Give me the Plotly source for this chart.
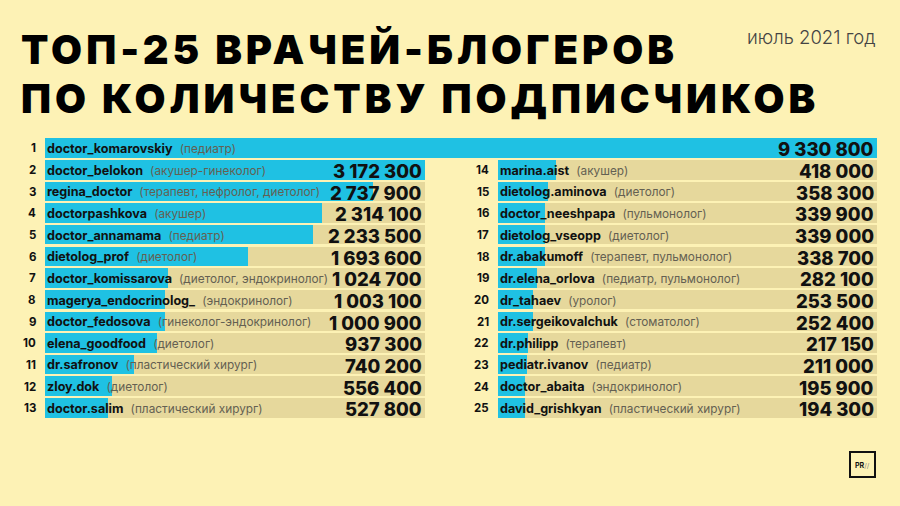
import plotly.graph_objects as go

ranks = list(range(1, 26))
names = ["doctor_komarovskiy", "doctor_belokon", "regina_doctor", "doctorpashkova",
         "doctor_annamama", "dietolog_prof", "doctor_komissarova", "magerya_endocrinolog_",
         "doctor_fedosova", "elena_goodfood", "dr.safronov", "zloy.dok", "doctor.salim",
         "marina.aist", "dietolog.aminova", "doctor_neeshpapa", "dietolog_vseopp",
         "dr.abakumoff", "dr.elena_orlova", "dr_tahaev", "dr.sergeikovalchuk",
         "dr.philipp", "pediatr.ivanov", "doctor_abaita", "david_grishkyan"]
specs = ["педиатр", "акушер-гинеколог", "терапевт, нефролог, диетолог", "акушер",
         "педиатр", "диетолог", "диетолог, эндокринолог", "эндокринолог",
         "гинеколог-эндокринолог", "диетолог", "пластический хирург", "диетолог",
         "пластический хирург", "акушер", "диетолог", "пульмонолог", "диетолог",
         "терапевт, пульмонолог", "педиатр, пульмонолог", "уролог", "стоматолог",
         "терапевт", "педиатр", "эндокринолог", "пластический хирург"]
subscribers = [9330800, 3172300, 2737900, 2314100, 2233500, 1693600, 1024700, 1003100,
               1000900, 937300, 740200, 556400, 527800, 418000, 358300, 339900, 339000,
               338700, 282100, 253500, 252400, 217150, 211000, 195900, 194300]

title_lines = ["ТОП-25 ВРАЧЕЙ-БЛОГЕРОВ", "ПО КОЛИЧЕСТВУ ПОДПИСЧИКОВ"]
subtitle = "июль 2021 год"

BG = "#fdf2b5"
TAN = "#e6d89c"
CYAN = "#1fc1e3"
FONT = "Inter"

W, H = 900, 506

def fx(px):
    return px / W

def fy(px):
    return 1 - px / H

# panels: (indices, axis suffix, range max, x domain px, y domain px)
panels = [
    (list(range(0, 1)), "", 9330800, (45, 877), (137.2, 158.8)),
    (list(range(1, 13)), "2", 3172300, (45, 425), (159.4, 419.0)),
    (list(range(13, 25)), "3", 2740000, (497.7, 877), (159.4, 419.0)),
]

fig = go.Figure()
annotations = []

def fmt(v):
    return f"{v:,}".replace(",", " ")

for idx, sfx, rmax, xd, yd in panels:
    cats = [str(ranks[i]) for i in idx]
    vals = [subscribers[i] for i in idx]
    xa = "x" + sfx
    ya = "y" + sfx
    fig.add_trace(go.Bar(x=[rmax] * len(cats), y=cats, orientation="h",
                         marker=dict(color=TAN, line=dict(width=0)), width=0.9,
                         xaxis=xa, yaxis=ya, hoverinfo="skip", showlegend=False))
    fig.add_trace(go.Bar(x=vals, y=cats, orientation="h",
                         marker=dict(color=CYAN, line=dict(width=0)), width=0.9,
                         xaxis=xa, yaxis=ya, showlegend=False))
    lay_x = "xaxis" + sfx
    lay_y = "yaxis" + sfx
    fig.layout[lay_x] = dict(domain=[fx(xd[0]), fx(xd[1])], range=[0, rmax],
                             visible=False, fixedrange=True, anchor=ya)
    fig.layout[lay_y] = dict(domain=[fy(yd[1]), fy(yd[0])], type="category",
                             categoryorder="array", categoryarray=cats,
                             range=[len(cats) - 0.5, -0.5], visible=False,
                             fixedrange=True, anchor=xa)
    for pos, i in enumerate(idx):
        annotations.append(dict(xref=xa, yref=ya, x=0, y=pos, xanchor="right",
                                yanchor="middle", xshift=-7, showarrow=False,
                                text=f"<b>{ranks[i]}</b>",
                                font=dict(family=FONT, size=11.5, color="#111", weight=800)))
        annotations.append(dict(xref=xa, yref=ya, x=0, y=pos, xanchor="left",
                                yanchor="middle", xshift=0, showarrow=False,
                                text=f"<b>{names[i]}</b>\u00a0 <span style='font-weight:400;font-size:11.8px;color:#646052'>({specs[i]})</span>",
                                font=dict(family=FONT, size=12.6, color="#111")))
        annotations.append(dict(xref=xa, yref=ya, x=rmax, y=pos, xanchor="right",
                                yanchor="middle", xshift=-1, yshift=-1, showarrow=False,
                                text=fmt(subscribers[i]),
                                font=dict(family=FONT, size=18.5, color="#111", weight=800)))

for line, ycen in zip(title_lines, [49, 98]):
    annotations.append(dict(xref="paper", yref="paper", x=fx(19), y=fy(ycen), xanchor="left",
                            yanchor="middle", showarrow=False,
                            text=f"<span style='letter-spacing:4px'>{line}</span>",
                            font=dict(family=FONT, size=40, color="#000", weight=900)))
annotations.append(dict(xref="paper", yref="paper", x=fx(878), y=fy(37), xanchor="right",
                        yanchor="middle", showarrow=False, text=subtitle,
                        font=dict(family=FONT, size=18.5, color="#444", weight=300)))
annotations.append(dict(xref="paper", yref="paper", x=fx(862.5), y=fy(465), xanchor="center",
                        yanchor="middle", showarrow=False,
                        text="<b>PR</b><span style='color:#888'>//</span>",
                        font=dict(family=FONT, size=7, color="#111")))

shapes = [dict(type="rect", xref="paper", yref="paper", x0=fx(850), x1=fx(875),
               y0=fy(477), y1=fy(452), line=dict(color="#111", width=2))]

fig.update_layout(width=W, height=H, margin=dict(l=0, r=0, t=0, b=0),
                  paper_bgcolor=BG, plot_bgcolor="rgba(0,0,0,0)", barmode="overlay",
                  annotations=annotations, shapes=shapes, bargap=0)

fig.write_html("out.html", config={"displayModeBar": False},
               post_script="document.body.style.margin='0';document.body.style.background='" + BG + "';")
